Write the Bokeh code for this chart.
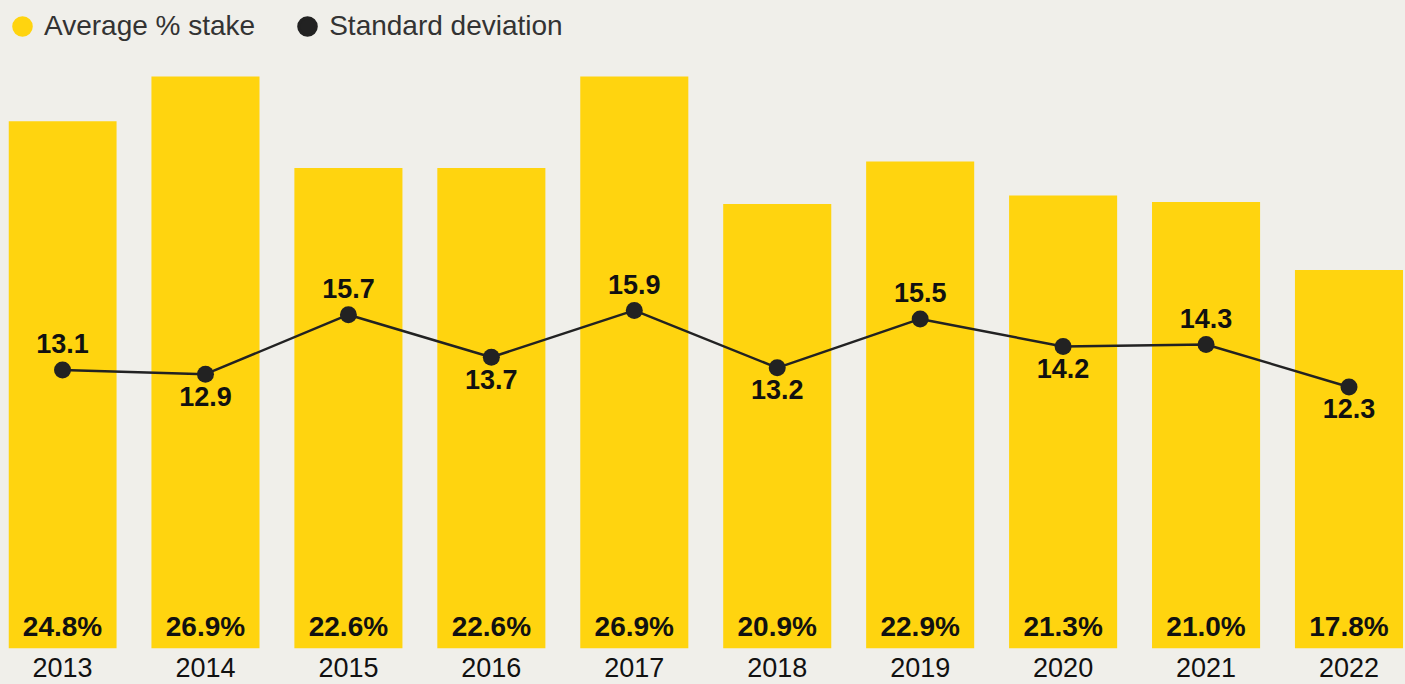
from bokeh.plotting import figure
from bokeh.models import ColumnDataSource, FixedTicker, Legend, LegendItem, Range1d
from bokeh.embed import file_html
from bokeh.resources import INLINE
from bokeh.core.properties import value
from jinja2 import Template

years = ["2013", "2014", "2015", "2016", "2017", "2018", "2019", "2020", "2021", "2022"]
avg_stake = [24.8, 26.9, 22.6, 22.6, 26.9, 20.9, 22.9, 21.3, 21.0, 17.8]
std_dev = [13.1, 12.9, 15.7, 13.7, 15.9, 13.2, 15.5, 14.2, 14.3, 12.3]

BG = "#F0EFEA"
YELLOW = "#FFD40F"
DARK = "#222222"
FONT = "Liberation Sans"

xs = list(range(len(years)))
src = ColumnDataSource(dict(
    x=xs,
    avg=avg_stake,
    std=std_dev,
    zero=[0] * len(xs),
    avg_label=[f"{v:.1f}%" for v in avg_stake],
    std_label=[f"{v:.1f}" for v in std_dev],
    std_off=[-26 if i % 2 == 0 else 22 for i in xs],
))

FW = 1397
PX_PER_CAT = 142.94
x0 = -0.378

p = figure(
    frame_width=FW, frame_height=640,
    x_range=Range1d(x0, x0 + FW / PX_PER_CAT),
    y_range=Range1d(0, 30.1),
    output_backend="svg", toolbar_location=None,
    y_axis_location=None,
    min_border_left=8, min_border_right=0, min_border_top=8, min_border_bottom=0,
    background_fill_color=BG, border_fill_color=BG, outline_line_color=None,
)
p.xgrid.visible = False
p.ygrid.visible = False

p.vbar(x="x", top="avg", bottom=0, width=0.756, source=src,
       fill_color=YELLOW, line_color=None)
p.line(x="x", y="std", source=src, line_color=DARK, line_width=2.5)
p.scatter(x="x", y="std", source=src, size=17, fill_color=DARK, line_color=None)

p.text(x="x", y="zero", text="avg_label", source=src, y_offset=-22,
       text_align="center", text_baseline="alphabetic",
       text_font=value(FONT), text_font_style="bold", text_font_size="28px",
       text_color="#111111")
p.text(x="x", y="std", text="std_label", source=src, y_offset="std_off",
       text_align="center", text_baseline="alphabetic",
       text_font=value(FONT), text_font_style="bold", text_font_size="27px",
       text_color="#111111")

ax = p.xaxis[0]
ax.ticker = FixedTicker(ticks=xs)
ax.major_label_overrides = {i: y for i, y in zip(xs, years)}
ax.axis_line_color = None
ax.major_tick_line_color = None
ax.minor_tick_line_color = None
ax.major_label_standoff = 3
ax.major_label_text_font = FONT
ax.major_label_text_font_size = "27px"
ax.major_label_text_color = "#111111"

nan = float("nan")
r1 = p.scatter(x=[nan], y=[nan], size=10, fill_color=YELLOW, line_color=YELLOW,
               line_width=3, marker="circle")
r2 = p.scatter(x=[nan], y=[nan], size=10, fill_color=DARK, line_color=DARK,
               line_width=3, marker="circle")
legend = Legend(
    items=[LegendItem(label="Average % stake", renderers=[r1]),
           LegendItem(label="Standard deviation", renderers=[r2])],
    orientation="horizontal", location=(-8, 600),
    glyph_width=44, glyph_height=44, label_standoff=0, spacing=30,
    padding=0, margin=0, background_fill_alpha=0, border_line_color=None,
    label_text_font=FONT, label_text_font_size="28px", label_text_color="#333333",
)
p.add_layout(legend)

template = Template("""{% extends base %}
{% block postamble %}<style>body{background:#F0EFEA;}</style>{% endblock %}""")

open("out.html", "w").write(file_html(p, INLINE, template=template))
